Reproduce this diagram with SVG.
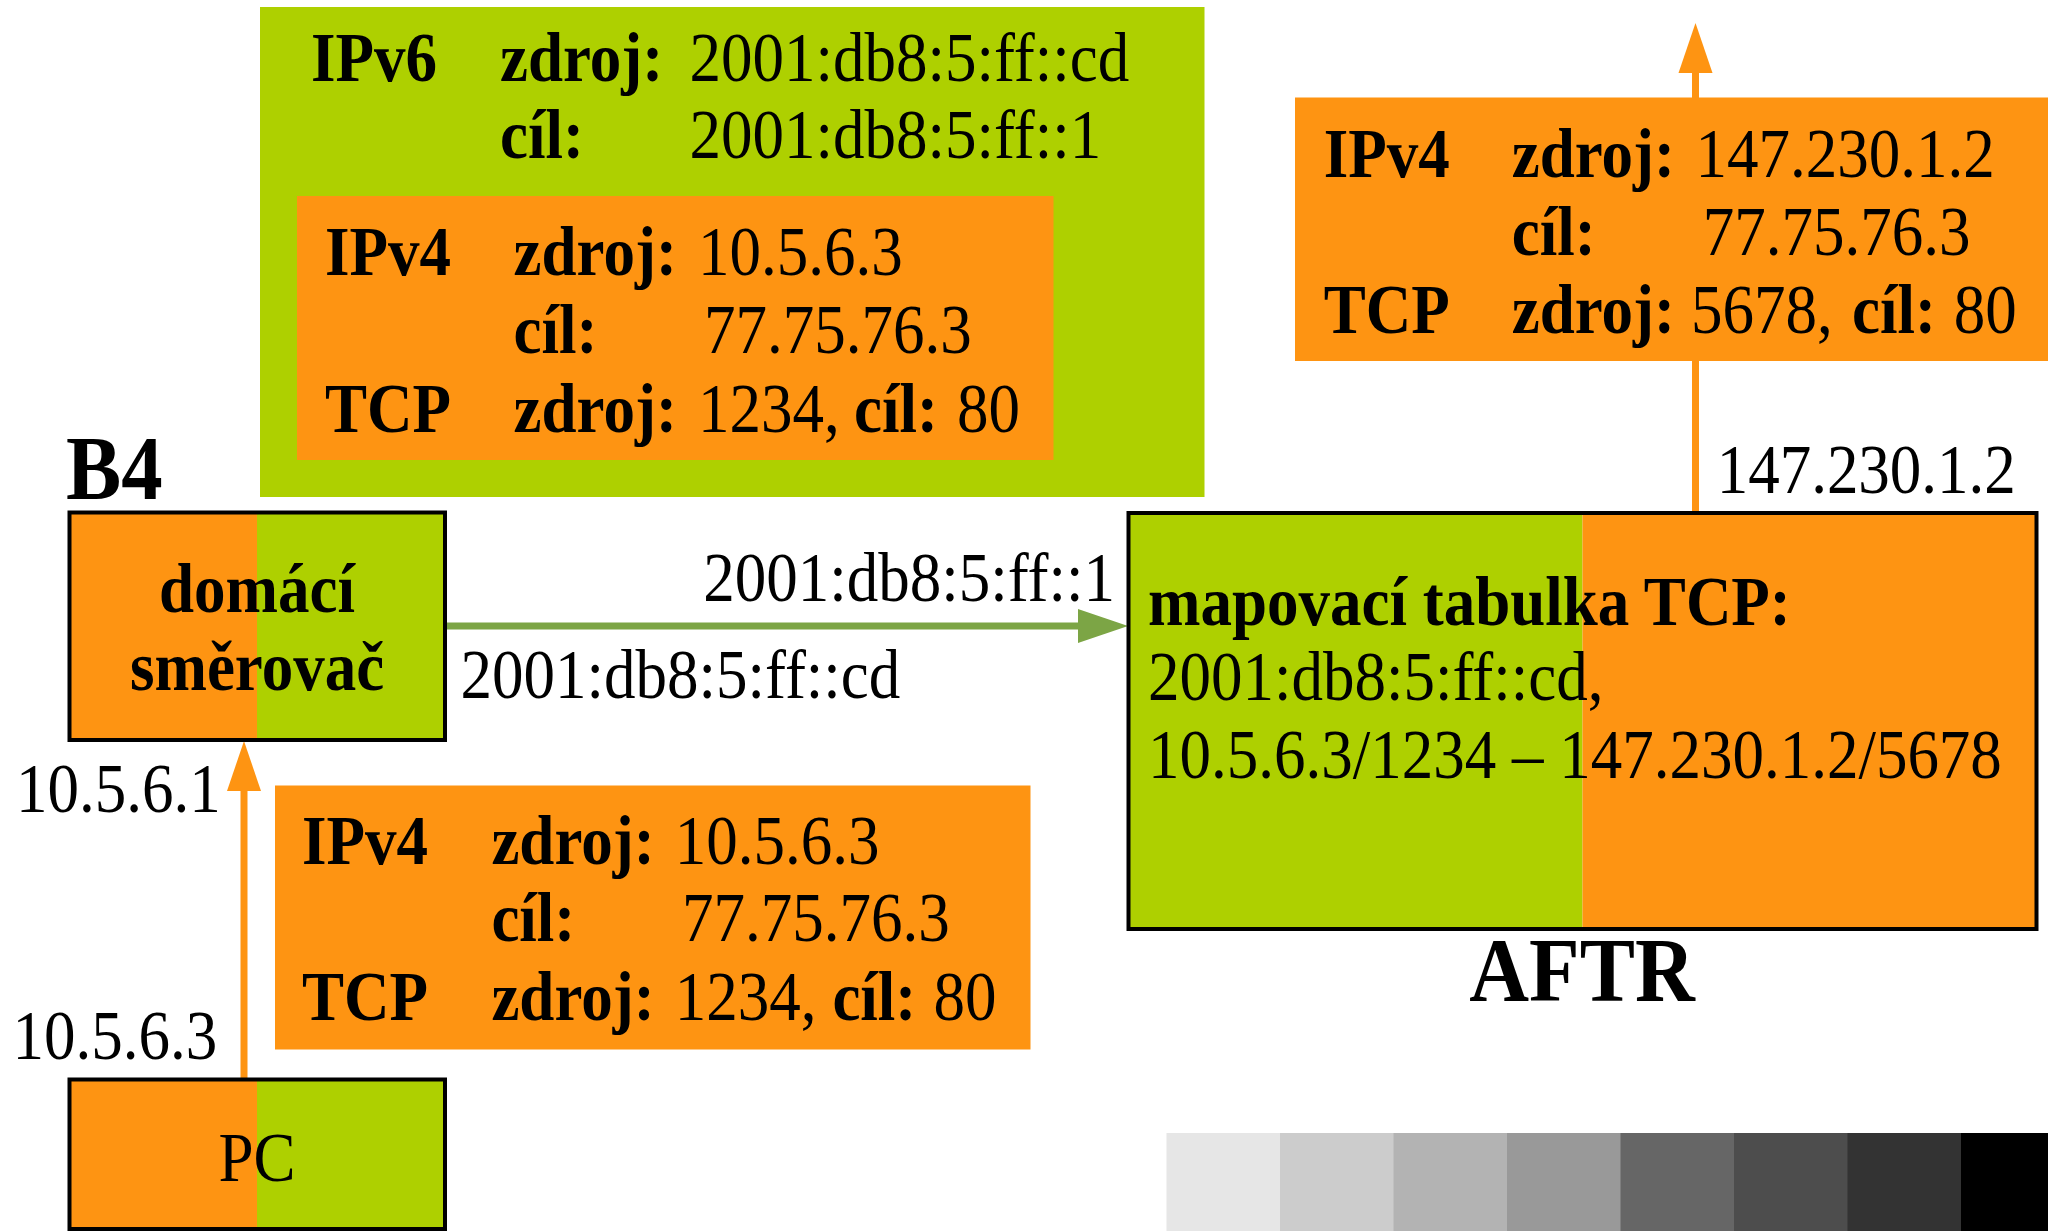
<svg xmlns="http://www.w3.org/2000/svg" width="2048" height="1231" viewBox="0 0 2048 1231">
  <style>
    .or { fill: #fe9412; }
    .gr { fill: #aed000; }
    .frame { fill: none; stroke: #000; stroke-width: 4; }
    .t { font-family: "Liberation Serif", "Times New Roman", serif; font-size: 70px; fill: #000; }
    .b { font-weight: bold; }
    .big { font-size: 92px; font-weight: bold; }
    .mid { text-anchor: middle; }
    .end { text-anchor: end; }
    .wire-o { stroke: #fe9412; stroke-width: 7; fill: none; }
    .wire-g { stroke: #7ca545; stroke-width: 7; fill: none; }
  </style>
  <defs>
    <marker id="headOrange" markerUnits="userSpaceOnUse" markerWidth="50" markerHeight="34" refX="0" refY="17" orient="auto" overflow="visible">
      <path d="M0,0 L50,17 L0,34 Z" fill="#fe9412"/>
    </marker>
    <marker id="headGreen" markerUnits="userSpaceOnUse" markerWidth="50" markerHeight="34" refX="0" refY="17" orient="auto" overflow="visible">
      <path d="M0,0 L50,17 L0,34 Z" fill="#7ca545"/>
    </marker>
  </defs>

  <rect width="2048" height="1231" fill="#fff"/>

  <!-- connectors -->
  <g id="connectors">
    <path class="wire-o" d="M244,1079.5 V791" marker-end="url(#headOrange)"/>
    <path class="wire-g" d="M445,626 H1078" marker-end="url(#headGreen)"/>
    <path class="wire-o" d="M1695.5,512 V73" marker-end="url(#headOrange)"/>
  </g>

  <!-- IPv6 packet carrying the IPv4 packet -->
  <g id="packet-ipv6">
    <rect class="gr" x="260" y="7" width="944.5" height="490"/>
    <rect class="or" x="297" y="196" width="756.5" height="264"/>
  </g>

  <!-- IPv4 packet leaving the AFTR -->
  <g id="packet-out">
    <rect class="or" x="1295" y="97.5" width="753" height="263.5"/>
  </g>

  <!-- IPv4 packet from the PC -->
  <g id="packet-pc">
    <rect class="or" x="275" y="785.5" width="755.5" height="264"/>
  </g>

  <!-- B4 home router -->
  <g id="router">
    <rect class="or" x="69.5" y="512.5" width="187.5" height="227.5"/>
    <rect class="gr" x="257" y="512.5" width="188" height="227.5"/>
    <rect class="frame" x="69.5" y="512.5" width="375.5" height="227.5"/>
  </g>

  <!-- PC -->
  <g id="pc">
    <rect class="or" x="69.5" y="1079.5" width="187.5" height="149.5"/>
    <rect class="gr" x="257" y="1079.5" width="188" height="149.5"/>
    <rect class="frame" x="69.5" y="1079.5" width="375.5" height="149.5"/>
  </g>

  <!-- AFTR -->
  <g id="aftr">
    <rect class="gr" x="1128.5" y="513" width="454" height="416"/>
    <rect class="or" x="1582.5" y="513" width="454" height="416"/>
    <rect class="frame" x="1128.5" y="513" width="908" height="416"/>
  </g>

  <!-- grey scale strip -->
  <g id="greyscale">
    <rect x="1166.5" y="1133" width="114" height="98" fill="#e6e6e6"/>
    <rect x="1280" y="1133" width="114" height="98" fill="#cccccc"/>
    <rect x="1393.5" y="1133" width="114" height="98" fill="#b3b3b3"/>
    <rect x="1507" y="1133" width="114" height="98" fill="#999999"/>
    <rect x="1620.5" y="1133" width="114" height="98" fill="#666666"/>
    <rect x="1734" y="1133" width="114" height="98" fill="#4d4d4d"/>
    <rect x="1847.5" y="1133" width="114" height="98" fill="#333333"/>
    <rect x="1961" y="1133" width="114" height="98" fill="#000000"/>
  </g>

  <!-- all text is set in a slightly condensed face: x coordinates are divided by 0.9 -->
  <g id="labels" transform="scale(0.9 1)">
    <!-- IPv6 header -->
    <text class="t b" x="345.6" y="81">IPv6</text>
    <text class="t b" x="555.6" y="81">zdroj:</text>
    <text class="t" x="766.1" y="81">2001:db8:5:ff::cd</text>
    <text class="t b" x="555.6" y="158">cíl:</text>
    <text class="t" x="766.1" y="158">2001:db8:5:ff::1</text>
    <!-- encapsulated IPv4 -->
    <text class="t b" x="361.1" y="275">IPv4</text>
    <text class="t b" x="570.7" y="275">zdroj:</text>
    <text class="t" x="775.6" y="275">10.5.6.3</text>
    <text class="t b" x="570.7" y="353">cíl:</text>
    <text class="t" x="782.2" y="353">77.75.76.3</text>
    <text class="t b" x="361.1" y="432">TCP</text>
    <text class="t" y="432"><tspan class="b" x="570.7">zdroj:</tspan><tspan x="775.6">1234,</tspan><tspan class="b" x="948.9">cíl:</tspan><tspan x="1063.3">80</tspan></text>

    <!-- outgoing IPv4 -->
    <text class="t b" x="1470.8" y="177">IPv4</text>
    <text class="t b" x="1679.7" y="177">zdroj:</text>
    <text class="t" x="1883.9" y="177">147.230.1.2</text>
    <text class="t b" x="1679.7" y="255">cíl:</text>
    <text class="t" x="1892" y="255">77.75.76.3</text>
    <text class="t b" x="1470.8" y="333">TCP</text>
    <text class="t" y="333"><tspan class="b" x="1679.7">zdroj:</tspan><tspan x="1878.9">5678,</tspan><tspan class="b" x="2057.8">cíl:</tspan><tspan x="2170.8">80</tspan></text>

    <!-- IPv4 from PC -->
    <text class="t b" x="335.6" y="864">IPv4</text>
    <text class="t b" x="546" y="864">zdroj:</text>
    <text class="t" x="749.7" y="864">10.5.6.3</text>
    <text class="t b" x="546" y="941">cíl:</text>
    <text class="t" x="757.8" y="941">77.75.76.3</text>
    <text class="t b" x="335.6" y="1020">TCP</text>
    <text class="t" y="1020"><tspan class="b" x="546">zdroj:</tspan><tspan x="749.7">1234,</tspan><tspan class="b" x="924.9">cíl:</tspan><tspan x="1037.3">80</tspan></text>

    <!-- node and address labels -->
    <text class="t big" x="73.3" y="499">B4</text>
    <text class="t b mid" x="285.6" y="612">domácí</text>
    <text class="t b mid" x="285.6" y="690">směrovač</text>
    <text class="t end" x="1238.9" y="601">2001:db8:5:ff::1</text>
    <text class="t" x="511.8" y="698">2001:db8:5:ff::cd</text>
    <text class="t" x="1907.4" y="493">147.230.1.2</text>
    <text class="t" x="17.8" y="812">10.5.6.1</text>
    <text class="t" x="13.9" y="1059">10.5.6.3</text>
    <text class="t mid" x="285.6" y="1181">PC</text>
    <text class="t b" x="1275.6" y="625">mapovací tabulka TCP:</text>
    <text class="t" x="1275.6" y="700">2001:db8:5:ff::cd,</text>
    <text class="t" x="1275.6" y="778">10.5.6.3/1234 – 147.230.1.2/5678</text>
    <text class="t big mid" x="1757.8" y="1001">AFTR</text>
  </g>
</svg>
